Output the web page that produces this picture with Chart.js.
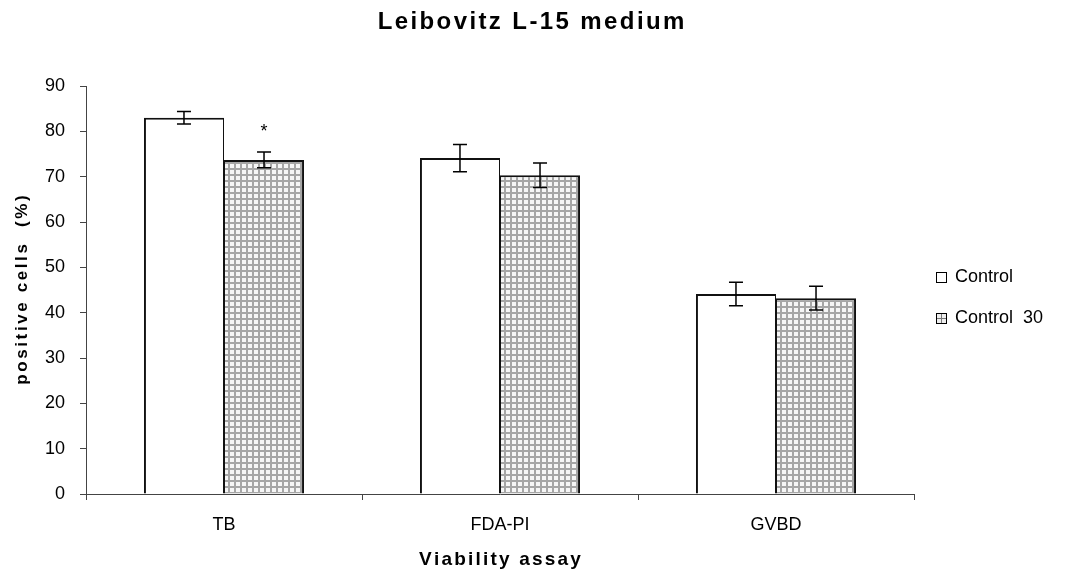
<!DOCTYPE html>
<html>
<head>
<meta charset="utf-8">
<title>Leibovitz L-15 medium</title>
<script src="https://cdn.jsdelivr.net/npm/chart.js@4.4.1/dist/chart.umd.min.js"></script>
<style>
    html, body { margin: 0; padding: 0; background: #fff; }
    #wrap { width: 1068px; height: 571px; position: relative; }
</style>
</head>
<body>
<div id="wrap"><canvas id="grafico" width="1068" height="571"></canvas></div>
<script>
// valores lidos por ensaio
const ensaios = ['TB', 'FDA-PI', 'GVBD'];
const controle = [83.0, 74.1, 44.1];
const controleErro = [1.4, 3.0, 2.6];
const controle30 = [73.7, 70.3, 43.2];
const controle30Erro = [1.75, 2.7, 2.6];
const marcaSignif = ['*', '', ''];
const ticksY = [0, 10, 20, 30, 40, 50, 60, 70, 80, 90];

const FONTE = "'Liberation Sans', Arial, sans-serif";

// quadriculado cinza das barras "Control 30"
function criarQuadriculado() {
    const c = document.createElement('canvas');
    c.width = 6;
    c.height = 6;
    const g = c.getContext('2d');
    g.fillStyle = '#f6f6f6';
    g.fillRect(0, 0, 6, 6);
    g.fillStyle = '#a6a6a6';
    g.fillRect(0, 0, 6, 2);
    g.fillRect(0, 0, 2, 6);
    return g.createPattern(c, 'repeat');
}

// texto com espaçamento entre letras, centrado em (cx, cy)
function textoEspacado(ctx, texto, cx, cy, espaco) {
    const larguras = [...texto].map(ch => ctx.measureText(ch).width);
    const total = larguras.reduce((a, b) => a + b, 0) + espaco * (texto.length - 1);
    let x = cx - total / 2;
    ctx.textAlign = 'left';
    ctx.textBaseline = 'middle';
    [...texto].forEach((ch, i) => {
        ctx.fillText(ch, x, cy);
        x += larguras[i] + espaco;
    });
}

const barrasErro = {
    id: 'barrasErro',
    afterDatasetsDraw(chart) {
        const ctx = chart.ctx;
        const y = chart.scales.y;
        ctx.save();
        ctx.strokeStyle = '#000';
        ctx.lineWidth = 1.5;
        chart.data.datasets.forEach((ds, di) => {
            const meta = chart.getDatasetMeta(di);
            meta.data.forEach((bar, i) => {
                const v = ds.data[i];
                const e = ds.erros[i];
                const yTop = y.getPixelForValue(v + e);
                const yBot = y.getPixelForValue(v - e);
                ctx.beginPath();
                ctx.moveTo(bar.x, yTop);
                ctx.lineTo(bar.x, yBot);
                ctx.moveTo(bar.x - 7, yTop);
                ctx.lineTo(bar.x + 7, yTop);
                ctx.moveTo(bar.x - 7, yBot);
                ctx.lineTo(bar.x + 7, yBot);
                ctx.stroke();
                if (ds.marcas && ds.marcas[i]) {
                    ctx.fillStyle = '#000';
                    ctx.font = '18px ' + FONTE;
                    ctx.textAlign = 'center';
                    ctx.textBaseline = 'middle';
                    ctx.fillText(ds.marcas[i], bar.x, yTop - 20);
                }
            });
        });
        ctx.restore();
    }
};

const titulosELegenda = {
    id: 'titulosELegenda',
    afterDraw(chart) {
        const ctx = chart.ctx;
        const area = chart.chartArea;
        ctx.save();
        ctx.fillStyle = '#000';

        ctx.font = 'bold 24px ' + FONTE;
        textoEspacado(ctx, 'Leibovitz L-15 medium', 531, 22, 2.4);

        ctx.font = 'bold 19px ' + FONTE;
        textoEspacado(ctx, 'Viability assay', (area.left + area.right) / 2, 560, 2.2);

        ctx.save();
        ctx.translate(22, (area.top + area.bottom) / 2);
        ctx.rotate(-Math.PI / 2);
        ctx.font = 'bold 17px ' + FONTE;
        textoEspacado(ctx, 'positive cells  (%)', 0, 0, 2.6);
        ctx.restore();

        // legenda
        const itens = [
            { nome: 'Control', y: 277, quad: false },
            { nome: 'Control 30', y: 318, quad: true }
        ];
        ctx.font = '18px ' + FONTE;
        ctx.textAlign = 'left';
        ctx.textBaseline = 'middle';
        itens.forEach(it => {
            const bx = 936.5, by = it.y - 4.5;
            ctx.fillStyle = it.quad ? '#eeeeee' : '#fff';
            ctx.fillRect(bx, by, 10, 10);
            if (it.quad) {
                ctx.strokeStyle = '#777';
                ctx.lineWidth = 1;
                ctx.beginPath();
                ctx.moveTo(bx + 5, by);
                ctx.lineTo(bx + 5, by + 10);
                ctx.moveTo(bx, by + 5);
                ctx.lineTo(bx + 10, by + 5);
                ctx.stroke();
            }
            ctx.strokeStyle = '#000';
            ctx.lineWidth = 1;
            ctx.strokeRect(bx, by, 10, 10);
            ctx.fillStyle = '#000';
            ctx.fillText(it.nome.replace(' ', '  '), 955, it.y);
        });
        ctx.restore();
    }
};

const ctx = document.getElementById('grafico').getContext('2d');
new Chart(ctx, {
    type: 'bar',
    data: {
        labels: ensaios,
        datasets: [
            {
                label: 'Control',
                data: controle,
                erros: controleErro,
                backgroundColor: '#ffffff',
                borderColor: '#111',
                borderWidth: { top: 2, left: 2, right: 1, bottom: 0 }
            },
            {
                label: 'Control 30',
                data: controle30,
                erros: controle30Erro,
                marcas: marcaSignif,
                backgroundColor: criarQuadriculado(),
                borderColor: '#111',
                borderWidth: { top: 2, left: 1, right: 2, bottom: 0 }
            }
        ]
    },
    options: {
        responsive: false,
        animation: false,
        layout: { padding: { top: 86, right: 154, left: 0, bottom: 0 } },
        datasets: {
            bar: { categoryPercentage: 0.58, barPercentage: 1 }
        },
        plugins: {
            legend: { display: false },
            title: { display: false },
            tooltip: { enabled: false }
        },
        scales: {
            x: {
                grid: {
                    offset: true,
                    drawOnChartArea: false,
                    drawTicks: true,
                    tickLength: 6,
                    color: '#444'
                },
                border: { display: true, color: '#444', width: 1 },
                ticks: {
                    color: '#000',
                    padding: 14,
                    font: { family: FONTE, size: 18 }
                },
                afterFit(scale) { scale.height = 77; }
            },
            y: {
                min: 0,
                max: 90,
                afterBuildTicks(scale) {
                    scale.ticks = ticksY.map(v => ({ value: v }));
                },
                grid: {
                    drawOnChartArea: false,
                    drawTicks: true,
                    tickLength: 6,
                    color: '#444'
                },
                border: { display: true, color: '#444', width: 1 },
                ticks: {
                    color: '#000',
                    padding: 15,
                    font: { family: FONTE, size: 18 }
                },
                afterFit(scale) { scale.width = 86; }
            }
        }
    },
    plugins: [barrasErro, titulosELegenda]
});
</script>
</body>
</html>
